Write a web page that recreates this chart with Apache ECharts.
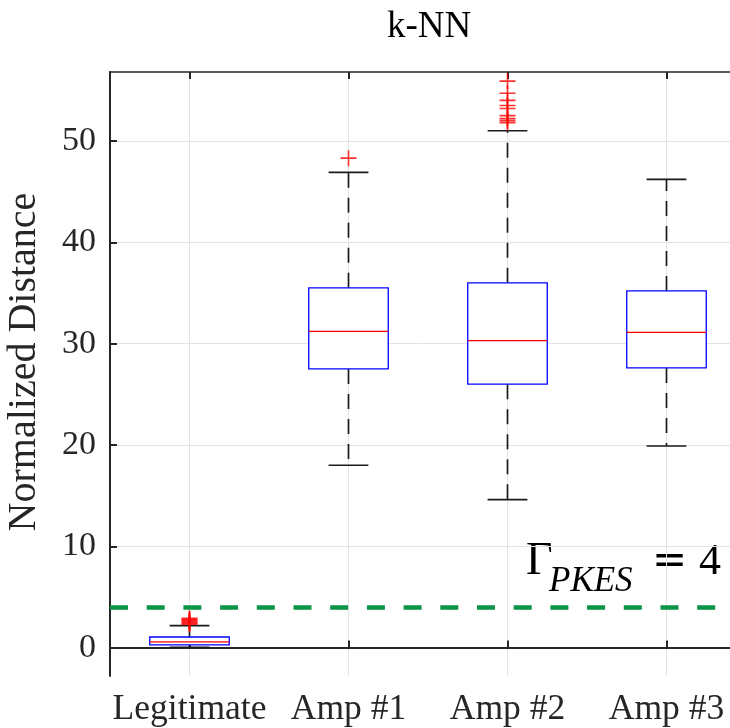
<!DOCTYPE html>
<html>
<head>
<meta charset="utf-8">
<script src="https://cdn.jsdelivr.net/npm/echarts@6/dist/echarts.min.js"></script>
<style>html,body{margin:0;padding:0;background:#fff}#c{width:730px;height:728px}</style>
</head>
<body>
<div id="c"></div>
<script>
const categories = ['Legitimate', 'Amp #1', 'Amp #2', 'Amp #3'];
const lowerWhisker = [0.03, 18.0, 14.6, 19.9];
const q1 = [0.27, 27.5, 26.0, 27.6];
const median = [0.56, 31.2, 30.3, 31.1];
const q3 = [1.05, 35.5, 36.0, 35.2];
const upperWhisker = [2.17, 46.9, 51.0, 46.2];
const outliers = [
  [1, 2.3], [1, 2.4], [1, 2.5], [1, 2.6], [1, 2.7], [1, 2.8], [1, 2.9],
  [2, 48.3],
  [3, 51.8], [3, 52.0], [3, 52.2], [3, 52.5], [3, 53.2], [3, 53.5], [3, 54.0], [3, 54.7], [3, 55.9]
];
const threshold = 4;
const yTicks = [0, 10, 20, 30, 40, 50];
const xTicks = [1, 2, 3, 4];

const boxData = categories.map((c, i) => [i + 1, lowerWhisker[i], q1[i], median[i], q3[i], upperWhisker[i]]);

const serif = 'Liberation Serif';
const axisColor = '#262626';

function renderBox(params, api) {
  const x = api.value(0);
  const lo = api.coord([x, api.value(1)]);
  const b1 = api.coord([x, api.value(2)]);
  const md = api.coord([x, api.value(3)]);
  const b3 = api.coord([x, api.value(4)]);
  const hi = api.coord([x, api.value(5)]);
  const w = api.size([0.5, 0])[0];
  const cx = lo[0];
  const dash = { stroke: '#1a1a1a', lineWidth: 1.7, lineDash: [15, 10] };
  const solid = { stroke: '#1a1a1a', lineWidth: 1.6 };
  return {
    type: 'group',
    children: [
      { type: 'line', shape: { x1: cx, y1: b3[1], x2: cx, y2: hi[1] }, style: dash },
      { type: 'line', shape: { x1: cx, y1: b1[1], x2: cx, y2: lo[1] }, style: dash },
      { type: 'line', shape: { x1: cx - w / 4, y1: hi[1], x2: cx + w / 4, y2: hi[1] }, style: solid },
      { type: 'line', shape: { x1: cx - w / 4, y1: lo[1], x2: cx + w / 4, y2: lo[1] }, style: solid },
      { type: 'rect', shape: { x: cx - w / 2, y: b3[1], width: w, height: b1[1] - b3[1] }, style: { fill: '#fff', stroke: '#0000ff', lineWidth: 1.3 } },
      { type: 'line', shape: { x1: cx - w / 2, y1: md[1], x2: cx + w / 2, y2: md[1] }, style: { stroke: '#ff0000', lineWidth: 1.2 } }
    ]
  };
}

const chart = echarts.init(document.getElementById('c'), null, { renderer: 'canvas' });
chart.setOption({
  animation: false,
  backgroundColor: '#fff',
  title: {
    text: 'k-NN', left: 382, top: 4,
    textStyle: { fontFamily: serif, fontSize: 37, fontWeight: 'normal', color: '#000' }
  },
  grid: { left: 110, top: 72, right: -16, bottom: 52, containLabel: false, outerBoundsMode: 'none' },
  xAxis: [{
    type: 'value', min: 0.5, max: 4.5, position: 'bottom',
    axisLine: { show: true, lineStyle: { color: axisColor, width: 2 } },
    axisTick: { show: true, inside: true, length: 7, customValues: xTicks, lineStyle: { color: axisColor, width: 2 } },
    axisLabel: {
      customValues: xTicks, margin: 16, fontFamily: serif, fontSize: 35.5, color: axisColor,
      formatter: v => categories[Math.round(v) - 1] || ''
    },
    splitLine: { show: true, lineStyle: { color: '#e3e3e3', width: 1 } }
  }, {
    type: 'value', min: 0.5, max: 4.5, position: 'top',
    axisLine: { show: true, onZero: false, lineStyle: { color: axisColor, width: 1.5 } },
    axisTick: { show: true, inside: true, length: 7, customValues: xTicks, lineStyle: { color: axisColor, width: 2 } },
    axisLabel: { show: false },
    splitLine: { show: false }
  }],
  yAxis: {
    type: 'value', min: -2.8, max: 56.8,
    name: 'Normalized Distance', nameLocation: 'middle', nameGap: 66,
    nameTextStyle: { fontFamily: serif, fontSize: 40, color: axisColor, padding: [0, 0, 0, 24] },
    axisLine: { show: true, onZero: false, lineStyle: { color: axisColor, width: 2 } },
    axisTick: { show: true, inside: true, length: 7, customValues: yTicks, lineStyle: { color: axisColor, width: 2 } },
    axisLabel: { customValues: yTicks, margin: 14, fontFamily: serif, fontSize: 34, color: axisColor },
    splitLine: { show: true, lineStyle: { color: '#e3e3e3', width: 1 } }
  },
  series: [{
    type: 'custom',
    renderItem: renderBox,
    data: boxData,
    encode: { x: 0, y: [1, 2, 3, 4, 5] },
    z: 3
  }, {
    type: 'scatter',
    data: outliers,
    symbol: 'path://M-0.8,-8 L0.8,-8 L0.8,-0.8 L8,-0.8 L8,0.8 L0.8,0.8 L0.8,8 L-0.8,8 L-0.8,0.8 L-8,0.8 L-8,-0.8 L-0.8,-0.8 Z',
    symbolSize: 16,
    itemStyle: { color: '#ff0000' },
    z: 4,
    markLine: {
      silent: true, symbol: 'none',
      label: { show: false },
      lineStyle: { color: '#0a9447', width: 4.5, type: [18, 18.7] },
      data: [{ yAxis: threshold }]
    }
  }],
  graphic: [
    { type: 'text', left: 526, top: 539, style: { text: 'Γ', font: '46px "Liberation Serif"', fill: '#000' } },
    { type: 'text', left: 549, top: 564, style: { text: 'PKES', font: 'italic 35px "Liberation Serif"', fill: '#000' } },
    { type: 'text', left: 652, top: 541, style: { text: '=', font: '42px "DejaVu Sans"', fill: '#000' } },
    { type: 'text', left: 699, top: 540, style: { text: '4', font: '44px "Liberation Serif"', fill: '#000' } }
  ]
});
</script>
</body>
</html>
